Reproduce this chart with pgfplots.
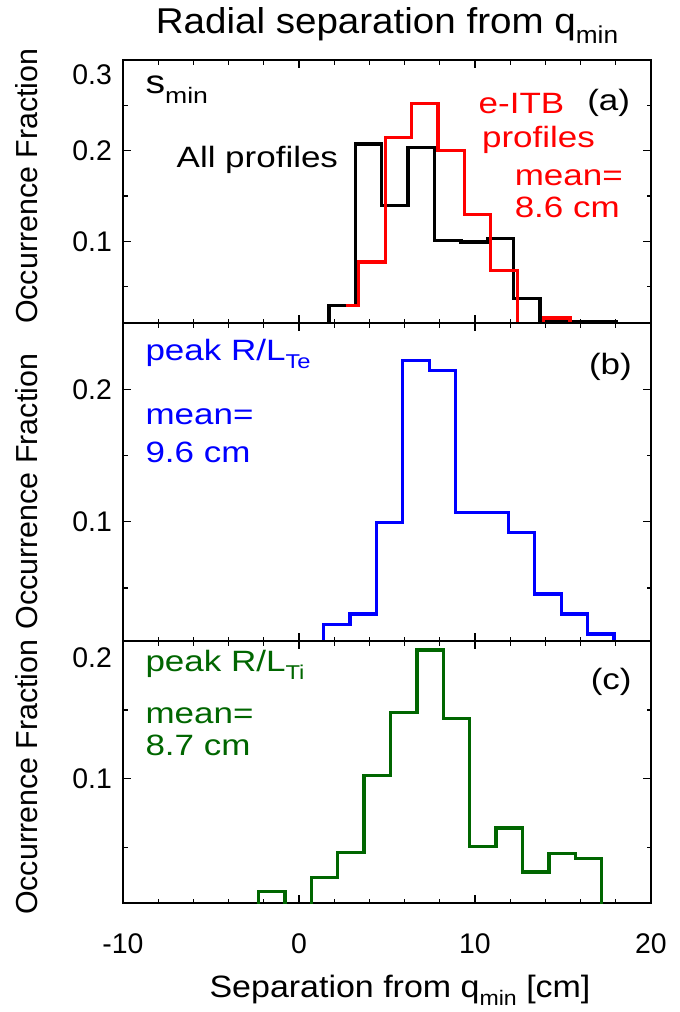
\documentclass[border=0pt]{standalone}
\usepackage{fontspec}
\setmainfont{Liberation Sans}
\usepackage{graphicx}
\usepackage{pgfplots}
\pgfplotsset{compat=1.18}
\newcommand\sub[1]{\raisebox{-0.28em}{\scalebox{0.68}{#1}}}
\newcommand\hs[1]{\scalebox{1.19}[1]{#1}}
\definecolor{dgreen}{rgb}{0,0.4,0}
\newcommand\ann{\fontsize{29.5}{31}\selectfont}
\begin{document}
\begin{tikzpicture}
\path[use as bounding box] (0bp,0bp) rectangle (680bp,-1012bp);
\pgfplotsset{
  panel/.style={
    scale only axis, width=528bp,
    xmin=-10, xmax=20, ymin=0.01,
    xtick={-10,0,10,20},
    minor xtick={-8,-6,-4,-2,2,4,6,8,12,14,16,18},
    tick pos=both, tick align=inside,
    major tick length=8bp, minor tick length=4.5bp,
    axis line style={line width=1.3bp},
    every tick/.append style={line width=1.1bp, black},
    tick label style={font=\fontsize{28.5}{30}\selectfont},
    /pgf/number format/assume math mode=true,
    yticklabel style={/pgf/number format/fixed,/pgf/number format/precision=1, inner sep=0pt, xshift=-11bp},
    xticklabel style={inner sep=0pt, yshift=-30bp},
    clip mode=individual,
    ylabel={Occurrence Fraction},
  },
  ylab/.style={every axis y label/.style={at={(axis description cs:-0.182,#1)}, rotate=90, anchor=center, font=\fontsize{30.5}{32}\selectfont}},
  hist/.style={line width=3.3bp, const plot mark left, mark=none},
}
% ---------- panel (a)
\begin{axis}[panel, ylab=0.52, at={(123bp,-60bp)}, anchor=north west, height=263bp, ymax=0.3,
  ytick={0.1,0.2}, minor ytick={0.05,0.15,0.25}, extra y ticks={0.3},
  extra y tick style={yticklabel style={yshift=-15bp}}, xticklabels={}]
\addplot[hist, black] coordinates {(1.7,0) (1.7,0.0295) (3.2,0.2075) (4.7,0.1396) (6.2,0.2039) (7.7,0.101) (9.2,0.0993) (10.7,0.103) (12.2,0.0369) (13.7,0.0119) (15.2,0.012) (16.7,0.012) (18.15,0.012)};
\addplot[hist, red] coordinates {(2.65,0.0295) (3.4,0.0772) (4.9,0.2149) (6.4,0.2523) (7.9,0.2002) (9.4,0.1297) (10.9,0.068) (12.4,0) (13.9,0.0156) (15.4,0)};
\node[anchor=base west, inner sep=0pt, font=\fontsize{33}{35}\selectfont] at (axis cs:-8.73,0.2626) {\hs{s\sub{min}}};
\node[anchor=base west, inner sep=0pt, font=\ann] at (axis cs:-6.96,0.182) {\hs{All profiles}};
\node[anchor=base west, inner sep=0pt, font=\ann, text=red] at (axis cs:10.2,0.2405) {\hs{e-ITB}};
\node[anchor=base west, inner sep=0pt, font=\ann, text=red] at (axis cs:10.39,0.203) {\hs{profiles}};
\node[anchor=base west, inner sep=0pt, font=\ann, text=red] at (axis cs:12.25,0.1617) {\hs{mean=}};
\node[anchor=base west, inner sep=0pt, font=\ann, text=red] at (axis cs:12.25,0.1268) {\hs{8.6 cm}};
\node[anchor=base west, inner sep=0pt, font=\ann] at (axis cs:16.37,0.244) {\hs{(a)}};
\end{axis}
% ---------- panel (b)
\begin{axis}[panel, ylab=0.47, at={(123bp,-323bp)}, anchor=north west, height=318bp, ymax=0.25,
  ytick={0.1,0.2}, minor ytick={0.05,0.15}, xticklabels={}]
\addplot[hist, blue] coordinates {(1.4,0) (1.4,0.0227) (2.9,0.0303) (4.4,0.0992) (5.9,0.2215) (7.4,0.2139) (8.9,0.107) (10.4,0.107) (11.9,0.0917) (13.4,0.0455) (14.9,0.0303) (16.4,0.0152) (17.9,0)};
\node[anchor=base west, inner sep=0pt, font=\ann, text=blue] at (axis cs:-8.73,0.2217) {\hs{peak R/L\sub{Te}}};
\node[anchor=base west, inner sep=0pt, font=\ann, text=blue] at (axis cs:-8.73,0.1737) {\hs{mean=}};
\node[anchor=base west, inner sep=0pt, font=\ann, text=blue] at (axis cs:-8.73,0.1447) {\hs{9.6 cm}};
\node[anchor=base west, inner sep=0pt, font=\ann] at (axis cs:16.47,0.211) {\hs{(b)}};
\end{axis}
% ---------- panel (c)
\begin{axis}[panel, ylab=0.48, at={(123bp,-641bp)}, anchor=north west, height=262bp, ymax=0.2,
  ytick={0.1}, minor ytick={0.05,0.15}, extra y ticks={0.2},
  extra y tick style={yticklabel style={yshift=-17bp}}]
\addplot[hist, dgreen] coordinates {(-2.3,0) (-2.3,0.0185) (-0.8,0) (0.7,0.0285) (2.2,0.0465) (3.7,0.1024) (5.2,0.148) (6.7,0.1935) (8.2,0.1436) (9.7,0.0508) (11.2,0.0645) (12.7,0.0324) (14.2,0.046) (15.7,0.0424) (17.2,0)};
\node[anchor=base west, inner sep=0pt, font=\ann, text=dgreen] at (axis cs:-8.73,0.178) {\hs{peak R/L\sub{Ti}}};
\node[anchor=base west, inner sep=0pt, font=\ann, text=dgreen] at (axis cs:-8.73,0.140) {\hs{mean=}};
\node[anchor=base west, inner sep=0pt, font=\ann, text=dgreen] at (axis cs:-8.73,0.117) {\hs{8.7 cm}};
\node[anchor=base west, inner sep=0pt, font=\ann] at (axis cs:16.57,0.1647) {\hs{(c)}};
\end{axis}
\node[anchor=base, inner sep=0pt, font=\fontsize{36}{40}\selectfont] at (387bp,-33bp) {\scalebox{1.075}[1]{Radial separation from q\sub{min}}};
\node[anchor=base, inner sep=0pt, font=\fontsize{31}{33}\selectfont] at (400bp,-997bp) {\scalebox{1.1}[1]{Separation from q\sub{min} [cm]}};
\end{tikzpicture}
\end{document}
